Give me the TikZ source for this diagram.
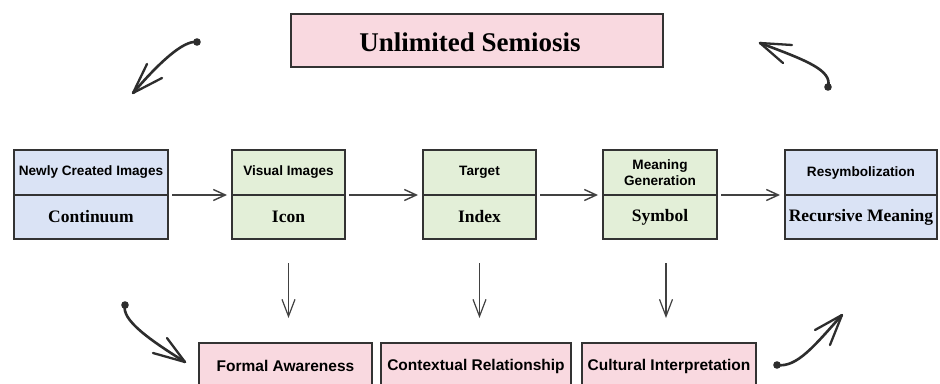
\documentclass[tikz,border=0pt]{standalone}
\usepackage{fontspec}
\setmainfont{Liberation Serif}
\setsansfont{Liberation Sans}
\usetikzlibrary{arrows.meta,calc}
\definecolor{boxblue}{RGB}{218,227,245}
\definecolor{boxgreen}{RGB}{227,239,216}
\definecolor{boxpink}{RGB}{249,217,224}
\definecolor{edgecol}{RGB}{51,51,51}
\definecolor{arrowgray}{RGB}{65,65,65}
\definecolor{brushcol}{RGB}{45,45,45}
\begin{document}
\begin{tikzpicture}[x=1pt,y=-1pt,
  box/.style={draw=edgecol,line width=1.3pt,inner sep=0pt,outer sep=0pt,align=center},
  toplab/.style={box,font=\sffamily\bfseries\fontsize{13.6}{15.5}\selectfont,minimum height=45pt},
  botlab/.style={box,font=\bfseries\fontsize{17.5}{20}\selectfont,minimum height=44pt},
  outlab/.style={box,fill=boxpink,font=\sffamily\bfseries\fontsize{15.5}{18}\selectfont,minimum height=46pt},
  harr/.style={draw=arrowgray,line width=1.4pt,-{Straight Barb[length=12pt,width=11pt]},shorten <=4pt,shorten >=5pt},
  varr/.style={draw=arrowgray,line width=1.2pt,-{Straight Barb[length=17pt,width=13pt]},shorten <=24pt,shorten >=25pt},
  brush/.style={draw=brushcol,line width=2.6pt,line cap=round},
  barb/.style={draw=brushcol,line width=2.3pt,line cap=round},
]
\clip (0,0) rectangle (940,383);
\fill[white] (0,0) rectangle (940,383);

% top box
\node[box,fill=boxpink,minimum width=372pt,minimum height=53pt] (semi) at (477,40.5) {};
\node[font=\bfseries\fontsize{27}{30}\selectfont,inner sep=0pt] (semit) at (470,42) {Unlimited Semiosis};

% row boxes
\node[toplab,fill=boxblue,minimum width=154pt] (b1t) at (91,172.5) {Newly Created Images};
\node[botlab,fill=boxblue,minimum width=154pt] (b1b) at (91,217) {Continuum};
\node[toplab,fill=boxgreen,minimum width=113pt] (b2t) at (288.5,172.5) {Visual Images};
\node[botlab,fill=boxgreen,minimum width=113pt] (b2b) at (288.5,217) {Icon};
\node[toplab,fill=boxgreen,minimum width=113pt] (b3t) at (479.5,172.5) {Target};
\node[botlab,fill=boxgreen,minimum width=113pt] (b3b) at (479.5,217) {Index};
\node[toplab,fill=boxgreen,minimum width=114pt] (b4t) at (660,172.5) {Meaning\\Generation};
\node[botlab,fill=boxgreen,minimum width=114pt] (b4b) at (660,217) {Symbol};
\node[toplab,fill=boxblue,minimum width=152pt] (b5t) at (861,172.5) {Resymbolization};
\node[botlab,fill=boxblue,minimum width=152pt] (b5b) at (861,217) {Recursive Meaning};

% bottom boxes
\node[outlab,minimum width=173pt] (formal) at (285.5,366) {Formal Awareness};
\node[outlab,minimum width=190pt] (context) at (476,366) {Contextual Relationship};
\node[outlab,minimum width=174pt] (cult) at (669,366) {Cultural Interpretation};

% horizontal arrows
\draw[harr] (b1t.south east) -- (b2t.south west);
\draw[harr] (b2t.south east) -- (b3t.south west);
\draw[harr] (b3t.south east) -- (b4t.south west);
\draw[harr] (b4t.south east) -- (b5t.south west);

% vertical arrows
\draw[varr] (b2b.south) -- (b2b.south |- formal.north);
\draw[varr] (b3b.south) -- (b3b.south |- context.north);
\draw[varr] ([xshift=6pt]b4b.south) -- ([xshift=6pt]b4b.south |- cult.north);

% hand-drawn curved arrows
\coordinate (tlS) at (197,42);
\coordinate (tlE) at (133,93);
\draw[brush] (tlS) .. controls (183,40) and (158,64) .. (tlE);
\fill[brushcol] (tlS) circle (3.8pt);
\draw[barb] (tlE) -- (147,64);
\draw[barb] (tlE) -- (162,78);

\coordinate (trS) at (828,87);
\coordinate (trE) at (760,43);
\draw[brush] (trS) .. controls (833,70) and (805,60) .. (trE);
\fill[brushcol] (trS) circle (3.8pt);
\draw[barb] (trE) -- (792,45);
\draw[barb] (trE) -- (783,63);

\coordinate (blS) at (125,305);
\coordinate (blE) at (185,362);
\draw[brush] (blS) .. controls (121,320) and (150,340) .. (blE);
\fill[brushcol] (blS) circle (3.8pt);
\draw[barb] (blE) -- (153,353);
\draw[barb] (blE) -- (167,338);

\coordinate (brS) at (777,365);
\coordinate (brE) at (842,315);
\draw[brush] (brS) .. controls (797,368) and (815,345) .. (brE);
\fill[brushcol] (brS) circle (3.8pt);
\draw[barb] (brE) -- (815,330);
\draw[barb] (brE) -- (830,345);
\end{tikzpicture}
\end{document}
